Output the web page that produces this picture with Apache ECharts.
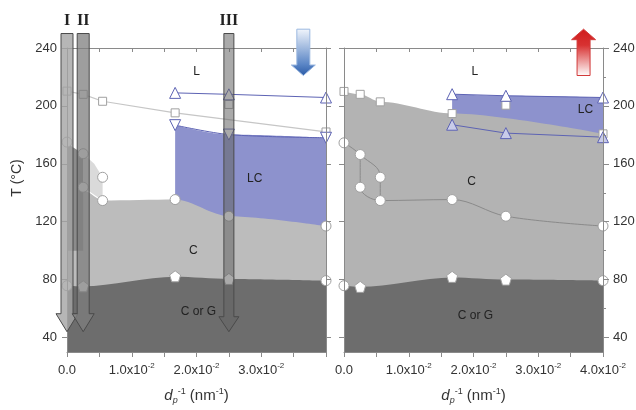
<!DOCTYPE html>
<html><head><meta charset="utf-8">
<script src="https://cdn.jsdelivr.net/npm/echarts@6/dist/echarts.min.js"></script>
<style>html,body{margin:0;padding:0;background:#fff}#c{width:636px;height:410px}</style>
</head><body><div id="c"></div>
<script>
// ---------------- data ----------------
const xTicks = [0, 0.005, 0.01, 0.015, 0.02, 0.025, 0.03, 0.035, 0.04];
const xLabelsLeft = [0, 0.01, 0.02, 0.03];
const xLabelsRight = [0, 0.01, 0.02, 0.03, 0.04];
const yLabels = [40, 80, 120, 160, 200, 240];
const yMinor = [60, 100, 140, 180, 220];

// left panel
const gLineL = [[0, 75.8], [0.0025, 75.4], [0.0167, 82.0], [0.025, 80.5], [0.04, 79.3]];
const cTopL = [[0, 141], [0.0028, 141], [0.0055, 134.6], [0.0167, 135.3], [0.025, 123.8], [0.04, 117]];
const lcTopL = [[0.0167, 186.7], [0.025, 180.2], [0.04, 178.0]];
const wedgeL = [[0, 174], [0.0025, 167], [0.0025, 100], [0, 100]];
const paleL = [[0.0025, 167], [0.0042, 160], [0.0055, 150.7], [0.0055, 134.6], [0.0025, 143.8]];
const clearL = [[0, 210.2], [0.0025, 208], [0.0055, 203.2], [0.0167, 195.2], [0.04, 182]];
const clearExtraL = [[0.025, 201]];
const triUpL = [[0.0167, 209], [0.025, 208], [0.04, 205.8]];
const circlesL = [[0, 175], [0.0025, 167], [0.0025, 143.8], [0.0055, 150.7], [0.0055, 134.6], [0.0167, 135.3], [0.025, 123.8], [0.04, 117]];
const gCirclesL = [[0, 75.8], [0.04, 79.3]];
const gPentL = [[0.0025, 75.4], [0.0167, 82.3], [0.025, 80.5]];
const phaseTextL = ['L', 'LC', 'C', 'C or G'];
const phasePosL = [[0.02, 223.4], [0.029, 149.6], [0.0195, 100], [0.0203, 57.7]];

// right panel
const gLineR = [[0, 75.8], [0.0025, 75.0], [0.0167, 81.5], [0.025, 80.0], [0.04, 79.3]];
const clearR = [[0, 210], [0.0025, 208], [0.0056, 202.8], [0.0167, 194.7], [0.04, 180.7]];
const clearExtraR = [[0.025, 200.5]];
const lcTopR = [[0.0167, 208.1], [0.025, 207], [0.04, 205.8]];
const triLowR = [[0.0167, 187], [0.025, 181.2], [0.04, 178.4]];
const cPathAR = [[0, 174.5], [0.0025, 166.4], [0.0056, 150.7], [0.0056, 134.6]];
const cPathBR = [[0.0025, 166.4], [0.0025, 143.8], [0.0056, 134.6], [0.0167, 135.3], [0.025, 123.8], [0.04, 117]];
const circlesR = [[0, 174.5], [0.0025, 166.4], [0.0025, 143.8], [0.0056, 150.7], [0.0056, 134.6], [0.0167, 135.3], [0.025, 123.8], [0.04, 117]];
const gCirclesR = [[0, 75.8], [0.04, 79.3]];
const gPentR = [[0.0025, 75.0], [0.0167, 81.9], [0.025, 80.0]];
const phaseTextR = ['L', 'LC', 'C', 'C or G'];
const phasePosR = [[0.0202, 223.4], [0.0373, 197.5], [0.0197, 147.8], [0.0203, 55.1]];

// cooling paths I, II, III (left panel)
const pathX = [0, 0.0025, 0.025];
const pathLabels = ['I', 'II', 'III'];
const pathTopT = 250;
const pathTipT = 44;
// heating / cooling direction arrows
const coolArrow = [[0.0365, 253, 221]];
const heatArrow = [[0.037, 221, 253]];

// ---------------- styles ----------------
const FONT = '"Liberation Sans", Arial, sans-serif';
const axisColor = '#8a8a8a';
const C_DARK = '#6d6d6d', C_GRAY_L = '#bcbcbc', C_GRAY_R = '#b3b3b3', C_BLUE = '#8d92cd', C_LINE_BLUE = '#5d63b4';
const pathStyles = [
  { shaft: 12, headW: 22, headH: 18, fill: 'rgba(164,164,164,0.8)' },
  { shaft: 12, headW: 22, headH: 18, fill: 'rgba(125,125,125,0.75)' },
  { shaft: 10, headW: 20, headH: 15, fill: 'rgba(100,100,100,0.55)' }
];
const PENT = 'path://M0,-1 L0.951,-0.309 L0.588,0.809 L-0.588,0.809 L-0.951,-0.309 Z';

const sciFmt = v => {
  if (Math.abs(v) < 1e-9) return '{b|0.0}';
  return '{b|' + (v * 100).toFixed(1) + 'x10}{s|-2}';
};
const labelRich = {
  b: { fontSize: 13, color: '#333', fontFamily: FONT, lineHeight: 16 },
  s: { fontSize: 8, color: '#333', fontFamily: FONT, verticalAlign: 'top', lineHeight: 8 }
};
const nameRich = {
  i: { fontStyle: 'italic', fontSize: 15, color: '#333', fontFamily: FONT, lineHeight: 18 },
  sb: { fontStyle: 'italic', fontSize: 9, color: '#333', fontFamily: FONT, verticalAlign: 'bottom', lineHeight: 9 },
  sp: { fontSize: 9, color: '#333', fontFamily: FONT, verticalAlign: 'top', lineHeight: 9 },
  n: { fontSize: 15, color: '#333', fontFamily: FONT, lineHeight: 18 }
};
const xName = '{i|d}{sb|p}{sp|-1}{n| (nm}{sp|-1}{n|)}';

function xBottom(gi, labels) {
  return {
    type: 'value', gridIndex: gi, position: 'bottom', min: 0, max: 0.04, z: 20,
    axisLine: { show: true, onZero: false, lineStyle: { color: axisColor } },
    axisTick: { show: true, customValues: xTicks, length: 5, lineStyle: { color: axisColor } },
    axisLabel: { customValues: labels, formatter: sciFmt, margin: 10, rich: labelRich },
    splitLine: { show: false },
    name: xName, nameLocation: 'middle', nameGap: 35, nameTextStyle: { rich: nameRich }
  };
}
function xTop(gi) {
  return {
    type: 'value', gridIndex: gi, position: 'top', min: 0, max: 0.04, z: 20,
    axisLine: { show: true, onZero: false, lineStyle: { color: axisColor } },
    axisTick: { show: true, inside: true, customValues: xTicks, length: 4, lineStyle: { color: axisColor } },
    axisLabel: { show: false }, splitLine: { show: false }
  };
}
function yAx(gi, pos, showLabel, ticks, len, showLine) {
  return {
    type: 'value', gridIndex: gi, position: pos, min: 30, max: 240, z: 20,
    axisLine: { show: showLine, onZero: false, lineStyle: { color: axisColor } },
    axisTick: { show: true, customValues: ticks, length: len, lineStyle: { color: axisColor } },
    axisLabel: { show: showLabel, customValues: yLabels, margin: 10, fontSize: 13, color: '#333', fontFamily: FONT },
    splitLine: { show: false }
  };
}

function fill(data, color, xi, yi, z) {
  return { type: 'line', xAxisIndex: xi, yAxisIndex: yi, data, smooth: 0.3, smoothMonotone: 'x', z,
    symbol: 'none', lineStyle: { width: 0 }, areaStyle: { color, opacity: 1, origin: 'start' }, silent: true };
}
function poly(pts, color, xi, yi, z) {
  return { type: 'custom', xAxisIndex: xi, yAxisIndex: yi, data: pts, silent: true, z,
    renderItem: (params, api) => {
      if (params.dataIndex !== 0) return null;
      return { type: 'polygon', shape: { points: pts.map(p => api.coord(p)) }, style: { fill: color } };
    } };
}
function line(data, color, width, xi, yi, smooth) {
  return { type: 'line', xAxisIndex: xi, yAxisIndex: yi, data, smooth: smooth || 0, symbol: 'none', z: 6,
    lineStyle: { color, width }, silent: true };
}
function marks(data, symbol, size, fillC, stroke, xi, yi, rotate) {
  return { type: 'scatter', xAxisIndex: xi, yAxisIndex: yi, data, symbol, symbolSize: size, z: 7, clip: false,
    symbolRotate: rotate || 0, itemStyle: { color: fillC, borderColor: stroke, borderWidth: 1, opacity: 1 }, silent: true };
}
function texts(pos, txt, xi, yi) {
  return { type: 'custom', xAxisIndex: xi, yAxisIndex: yi, data: pos, silent: true, z: 8,
    renderItem: (params, api) => {
      const p = api.coord([api.value(0), api.value(1)]);
      return { type: 'text', style: { text: txt[params.dataIndex], x: p[0], y: p[1], align: 'center', verticalAlign: 'middle',
        fontSize: 12, fontFamily: FONT, fill: '#222' } };
    } };
}
function pathArrows() {
  return { type: 'custom', xAxisIndex: 0, yAxisIndex: 0, clip: false, silent: true, z: 30,
    data: pathX.map(x => [x, pathTopT, pathTipT]), encode: { x: 0, y: [1, 2] },
    renderItem: (params, api) => {
      const i = params.dataIndex, st = pathStyles[i];
      const top = api.coord([api.value(0), api.value(1)]);
      const tip = api.coord([api.value(0), api.value(2)]);
      const cx = top[0], hw = st.shaft / 2, hh = st.headW / 2, base = tip[1] - st.headH;
      const pts = [[cx - hw, top[1]], [cx + hw, top[1]], [cx + hw, base], [cx + hh, base], [cx, tip[1]], [cx - hh, base], [cx - hw, base]];
      return { type: 'group', children: [
        { type: 'polygon', shape: { points: pts }, style: { fill: st.fill, stroke: '#4a4a4a', lineWidth: 1 } },
        { type: 'text', style: { text: pathLabels[i], x: cx, y: top[1] - 5, align: 'center', verticalAlign: 'bottom',
          fontSize: 16, fontWeight: 'bold', fontFamily: '"Liberation Serif", "DejaVu Serif", serif', fill: '#222' } }
      ] };
    } };
}
function dirArrow(data, xi, yi, grad, stroke) {
  return { type: 'custom', xAxisIndex: xi, yAxisIndex: yi, clip: false, silent: true, z: 30,
    data, encode: { x: 0, y: [1, 2] },
    renderItem: (params, api) => {
      const a = api.coord([api.value(0), api.value(1)]);
      const b = api.coord([api.value(0), api.value(2)]);
      const cx = a[0], hw = 6.5, hh = 12, hl = 10.5;
      const dir = b[1] > a[1] ? 1 : -1;
      const base = b[1] - dir * hl;
      const pts = [[cx - hw, a[1]], [cx + hw, a[1]], [cx + hw, base], [cx + hh, base], [cx, b[1]], [cx - hh, base], [cx - hw, base]];
      return { type: 'polygon', shape: { points: pts }, style: { fill: grad, stroke, lineWidth: 1 } };
    } };
}

const blueGrad = new echarts.graphic.LinearGradient(0, 0, 0, 1, [
  { offset: 0, color: '#f2f6fc' }, { offset: 0.75, color: '#5b86c6' }, { offset: 1, color: '#2a5aa6' }]);
const redGrad = new echarts.graphic.LinearGradient(0, 0, 0, 1, [
  { offset: 0, color: '#d01a1a' }, { offset: 0.35, color: '#d83232' }, { offset: 1, color: '#ffffff' }]);

const option = {
  animation: false,
  backgroundColor: '#fff',
  grid: [
    { left: 67, top: 48, width: 259, height: 304, outerBoundsMode: 'none' },
    { left: 344, top: 48, width: 259, height: 304, outerBoundsMode: 'none' }
  ],
  xAxis: [xBottom(0, xLabelsLeft), xTop(0), xBottom(1, xLabelsRight), xTop(1)],
  yAxis: [
    yAx(0, 'left', true, yLabels, 5, true),
    yAx(0, 'right', false, yLabels, 5, true),
    yAx(1, 'left', false, yLabels, 5, true),
    yAx(1, 'right', true, yLabels, 6, true),
    yAx(1, 'right', false, yMinor, 3, false)
  ],
  graphic: [
    { type: 'text', x: 17, y: 178, rotation: Math.PI / 2,
      style: { text: 'T (\u00B0C)', align: 'center', verticalAlign: 'middle', fontSize: 14, fontFamily: FONT, fill: '#333' } }
  ],
  series: [
    // ---- left panel ----
    fill(lcTopL, C_BLUE, 0, 0, 1),
    fill(cTopL, C_GRAY_L, 0, 0, 2),
    poly(wedgeL, '#8c8c8c', 0, 0, 3),
    poly(paleL, '#dadada', 0, 0, 3),
    fill(gLineL, C_DARK, 0, 0, 4),
    line(lcTopL, C_LINE_BLUE, 1, 0, 0, 0.3),
    line(clearL, '#c6c6c6', 1.2, 0, 0),
    line(triUpL, C_LINE_BLUE, 1, 0, 0),
    marks(clearL, 'rect', 8, '#fff', '#a0a0a0', 0, 0),
    marks(clearExtraL, 'rect', 8, '#fff', '#a0a0a0', 0, 0),
    marks(triUpL, 'triangle', 11, '#fff', C_LINE_BLUE, 0, 0),
    marks(lcTopL, 'triangle', 11, '#fff', C_LINE_BLUE, 0, 0, 180),
    marks(circlesL, 'circle', 10, '#fff', '#a0a0a0', 0, 0),
    marks(gCirclesL, 'circle', 10, '#fff', '#a0a0a0', 0, 0),
    marks(gPentL, PENT, 11, '#fff', '#a0a0a0', 0, 0),
    texts(phasePosL, phaseTextL, 0, 0),
    // ---- right panel ----
    fill(lcTopR, C_BLUE, 2, 2, 1),
    fill(clearR, C_GRAY_R, 2, 2, 2),
    fill(gLineR, C_DARK, 2, 2, 4),
    line(lcTopR, C_LINE_BLUE, 1, 2, 2),
    line(triLowR, C_LINE_BLUE, 1, 2, 2),
    line(cPathAR, '#8a8a8a', 1, 2, 2, 0.45),
    line(cPathBR, '#8a8a8a', 1, 2, 2, 0.35),
    marks(clearR, 'rect', 8, '#fff', '#a0a0a0', 2, 2),
    marks(clearExtraR, 'rect', 8, '#fff', '#a0a0a0', 2, 2),
    marks(lcTopR, 'triangle', 11, '#fff', C_LINE_BLUE, 2, 2),
    marks(triLowR, 'triangle', 11, '#c9cce9', C_LINE_BLUE, 2, 2),
    marks(circlesR, 'circle', 10, '#fff', '#a0a0a0', 2, 2),
    marks(gCirclesR, 'circle', 10, '#fff', '#a0a0a0', 2, 2),
    marks(gPentR, PENT, 11, '#fff', '#a0a0a0', 2, 2),
    texts(phasePosR, phaseTextR, 2, 2),
    // ---- annotations ----
    pathArrows(),
    dirArrow(coolArrow, 0, 0, blueGrad, '#9bb8e0'),
    dirArrow(heatArrow, 2, 2, redGrad, '#d23a3a')
  ]
};
const chart = echarts.init(document.getElementById('c'));
chart.setOption(option);
</script>
</body></html>
